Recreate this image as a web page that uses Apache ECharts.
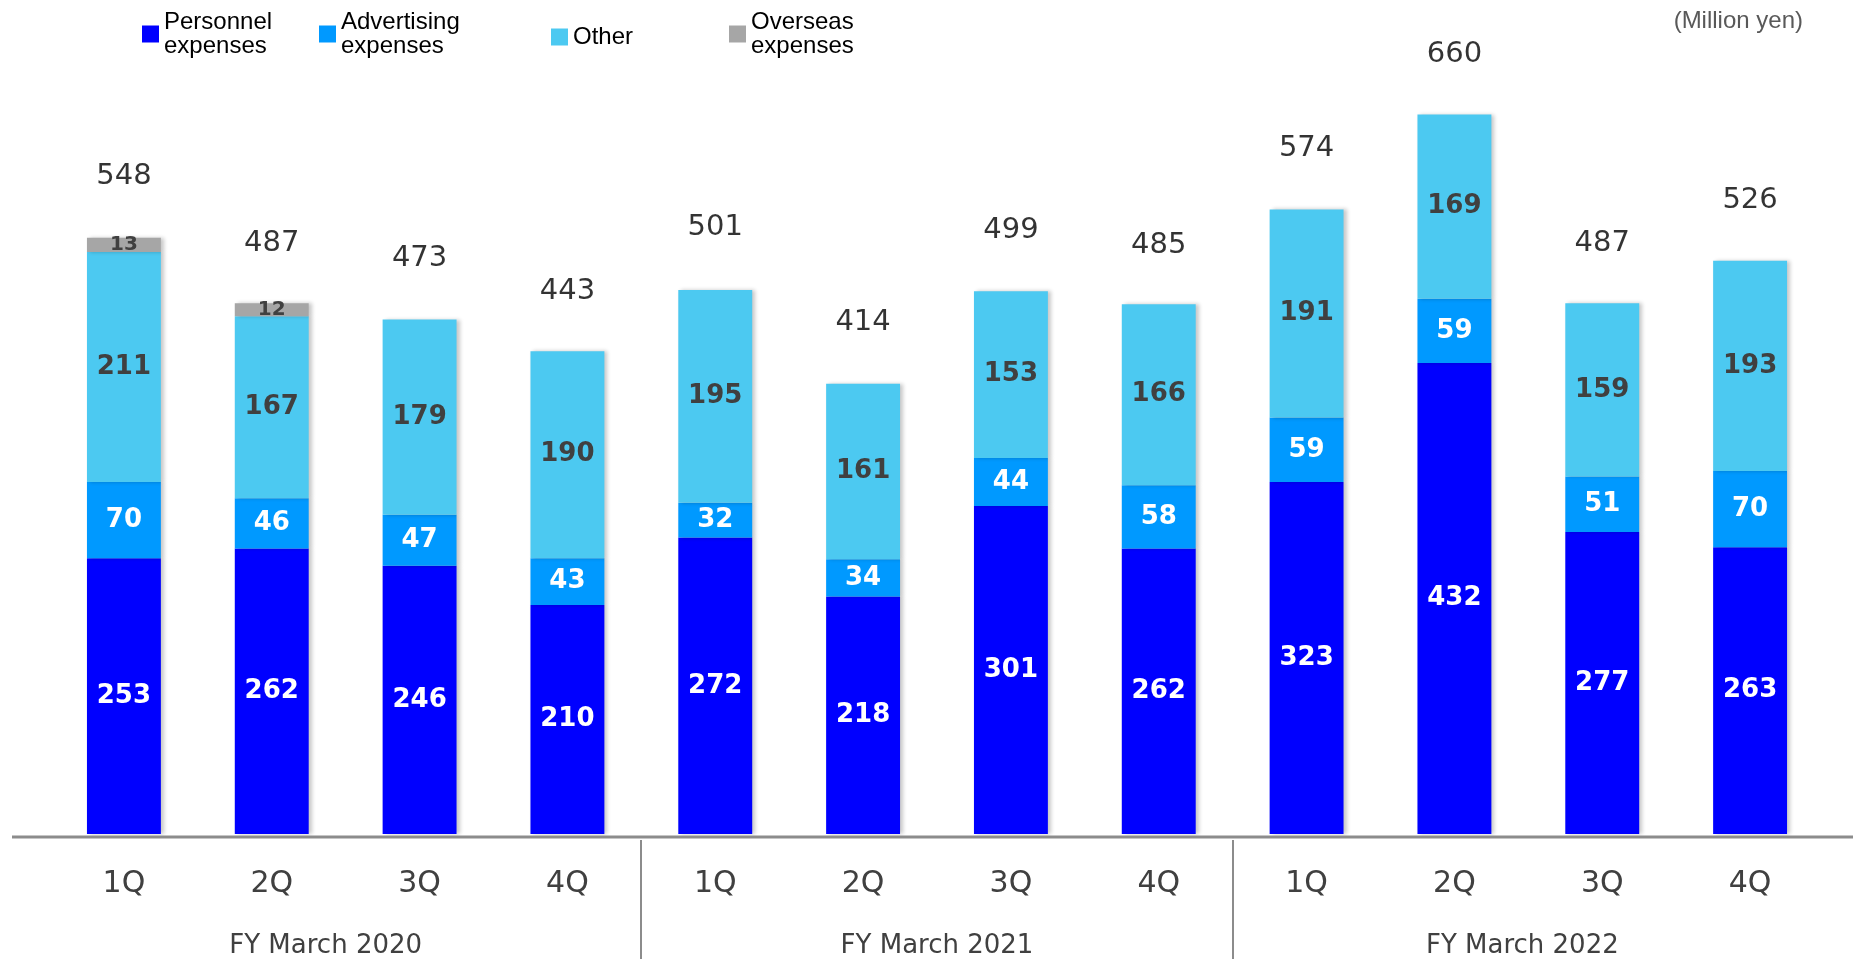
<!DOCTYPE html>
<html>
<head>
<meta charset="utf-8">
<title>Expenses by quarter</title>
<script src="https://cdn.jsdelivr.net/npm/echarts@6/dist/echarts.min.js"></script>
<style>
  html, body { margin: 0; padding: 0; background: #ffffff; }
  #chart { width: 1853px; height: 959px; }
</style>
</head>
<body>
<div id="chart"></div>
<script>
// Quarters and fiscal-year groups
const quarters = ['1Q', '2Q', '3Q', '4Q', '1Q', '2Q', '3Q', '4Q', '1Q', '2Q', '3Q', '4Q'];
const fiscalYears = ['FY March 2020', 'FY March 2021', 'FY March 2022'];

// Expense breakdown (million yen)
const personnel   = [253, 262, 246, 210, 272, 218, 301, 262, 323, 432, 277, 263];
const advertising = [70, 46, 47, 43, 32, 34, 44, 58, 59, 59, 51, 70];
const other       = [211, 167, 179, 190, 195, 161, 153, 166, 191, 169, 159, 193];
const overseas    = [13, 12, null, null, null, null, null, null, null, null, null, null];

// Reported quarterly totals
const totals = [548, 487, 473, 443, 501, 414, 499, 485, 574, 660, 487, 526];

const NUM_FONT = '"DejaVu Sans", Verdana, sans-serif';
const TXT_FONT = '"Liberation Sans", Arial, sans-serif';

const seriesNames = ['Personnel expenses', 'Advertising expenses', 'Other', 'Overseas expenses'];
const legendText = {
  'Personnel expenses': 'Personnel\nexpenses',
  'Advertising expenses': 'Advertising\nexpenses',
  'Other': 'Other',
  'Overseas expenses': 'Overseas\nexpenses'
};

// The first year label sits centred under the full left section of the axis line
const yearLabelPadding = [[0, 40, 0, 0], [0, 0, 0, 0], [0, 12, 0, 0]];

const barShadow = {
  shadowColor: 'rgba(0,0,0,0.22)',
  shadowBlur: 4,
  shadowOffsetX: 3,
  shadowOffsetY: 0
};

function stackedBar(name, data, color, labelColor, fontSize) {
  return {
    name: name,
    type: 'bar',
    stack: 'cost',
    data: data,
    barWidth: '50%',
    itemStyle: Object.assign({ color: color }, barShadow),
    label: {
      show: true,
      position: 'inside',
      color: labelColor,
      fontFamily: NUM_FONT,
      fontWeight: 'bold',
      fontSize: fontSize
    }
  };
}

function legendAt(name, left, top) {
  return {
    data: [name],
    left: left,
    top: top,
    padding: 0,
    icon: 'rect',
    itemWidth: 17,
    itemHeight: 17,
    itemGap: 0,
    selectedMode: false,
    formatter: n => legendText[n],
    textStyle: {
      fontFamily: TXT_FONT,
      fontSize: 24,
      lineHeight: 24,
      color: '#000000'
    }
  };
}

const chart = echarts.init(document.getElementById('chart'));

const AXIS_Y = 837;

chart.setOption({
  animation: false,
  backgroundColor: '#ffffff',
  title: {
    text: '(Million yen)',
    right: 50,
    top: 9,
    padding: 0,
    textStyle: {
      fontFamily: TXT_FONT,
      fontSize: 24,
      fontWeight: 'normal',
      color: '#595959'
    }
  },
  legend: [
    legendAt(seriesNames[0], 142, 10),
    legendAt(seriesNames[1], 319, 10),
    legendAt(seriesNames[2], 551, 25),
    legendAt(seriesNames[3], 729, 10)
  ],
  grid: {
    left: 50,
    right: 29,
    top: 71,
    bottom: 122,
    containLabel: false
  },
  xAxis: [
    {
      type: 'category',
      data: quarters,
      position: 'bottom',
      axisLine: { show: false },
      axisTick: { show: false },
      axisLabel: {
        margin: 35,
        fontFamily: NUM_FONT,
        fontSize: 30,
        color: '#404040'
      }
    },
    {
      type: 'category',
      data: fiscalYears.map((fy, i) => ({
        value: fy,
        textStyle: { padding: yearLabelPadding[i] }
      })),
      position: 'bottom',
      axisLine: { show: false },
      axisTick: { show: false },
      axisLabel: {
        margin: 99,
        fontFamily: NUM_FONT,
        fontSize: 26,
        color: '#404040'
      }
    }
  ],
  yAxis: {
    type: 'value',
    min: 0,
    max: 700,
    show: false,
    splitLine: { show: false }
  },
  graphic: [
    {
      id: 'baseline',
      type: 'line',
      shape: { x1: 12, y1: AXIS_Y, x2: 1853, y2: AXIS_Y },
      style: { stroke: '#8c8c8c', lineWidth: 3 },
      z: 10
    }
  ],
  series: [
    stackedBar(seriesNames[0], personnel, '#0000ff', '#ffffff', 26),
    stackedBar(seriesNames[1], advertising, '#0099ff', '#ffffff', 26),
    stackedBar(seriesNames[2], other, '#4cc9f1', '#404040', 26),
    stackedBar(seriesNames[3], overseas, '#a6a6a6', '#404040', 20),
    {
      name: 'Total',
      type: 'scatter',
      data: totals,
      symbolSize: 1,
      itemStyle: { color: 'rgba(0,0,0,0)' },
      label: {
        show: true,
        position: 'top',
        distance: 45,
        formatter: '{c}',
        fontFamily: NUM_FONT,
        fontSize: 29,
        color: '#000000'
      },
      z: 5
    }
  ]
});

// Vertical separators between fiscal years, placed at the category boundaries
const separators = [4, 8].map((idx, k) => {
  const left = chart.convertToPixel({ xAxisIndex: 0 }, idx - 1);
  const right = chart.convertToPixel({ xAxisIndex: 0 }, idx);
  const x = Math.round((left + right) / 2);
  return {
    id: 'sep' + k,
    type: 'line',
    shape: { x1: x, y1: AXIS_Y + 3, x2: x, y2: 959 },
    style: { stroke: '#8c8c8c', lineWidth: 2 },
    z: 10
  };
});
chart.setOption({ graphic: separators });
</script>
</body>
</html>
